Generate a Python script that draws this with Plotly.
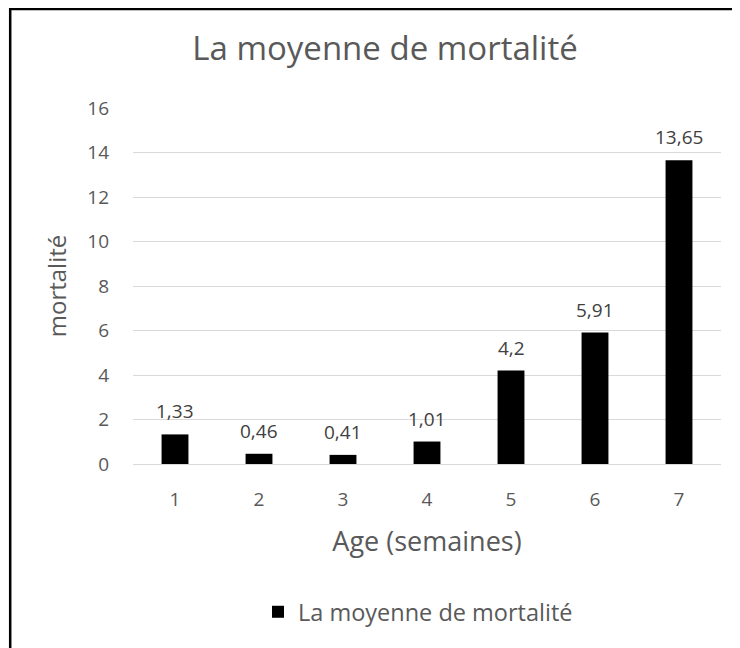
import plotly.graph_objects as go

categories = ["1", "2", "3", "4", "5", "6", "7"]
values = [1.33, 0.46, 0.41, 1.01, 4.2, 5.91, 13.65]
labels = ["1,33", "0,46", "0,41", "1,01", "4,2", "5,91", "13,65"]
series_name = "La moyenne de mortalité"
title_text = "La moyenne de mortalité"
x_title = "Age (semaines)"
y_title = "mortalité"
y_ticks = [0, 2, 4, 6, 8, 10, 12, 14, 16]

FONT = "Open Sans"
GREY = "#595959"

# the page body adds an 8px margin; reference pixel positions (page coordinates)
# are converted to figure coordinates
OFF = 8
W, H = 740 - OFF, 648 - OFF
L = 133 - OFF
T = 108 - OFF
R = W - (721 - OFF)
B = H - (464 - OFF)
pw, ph = W - L - R, H - T - B

def px_to_paper_x(px):
    return (px - OFF - L) / pw

def px_to_paper_y(py):
    return (H - B - (py - OFF)) / ph

fig = go.Figure()
fig.add_trace(go.Bar(
    x=categories, y=values, name=series_name,
    marker=dict(color="black", line=dict(width=0)),
    showlegend=True,
))

# value labels above the bars, placed on the data scale (category index, value)
for i, (v, t) in enumerate(zip(values, labels)):
    fig.add_annotation(x=i, y=v, text=t, showarrow=False, xref="x", yref="y",
                       yanchor="bottom", yshift=8,
                       font=dict(family=FONT, size=19, color="#404040"))

fig.update_layout(
    width=W, height=H,
    margin=dict(l=L, r=R, t=T, b=B, autoexpand=False),
    paper_bgcolor="white", plot_bgcolor="white",
    bargap=0.68,
    font=dict(family=FONT, color=GREY),
    title=dict(text=title_text, font=dict(family=FONT, size=33, color=GREY),
               x=px_to_paper_x(385), xref="paper", xanchor="center",
               y=1 - (48 - OFF) / H, yref="container", yanchor="middle"),
    xaxis=dict(type="category", showgrid=False, showline=False, ticks="",
               tickfont=dict(family=FONT, size=19, color=GREY),
               ticklabelstandoff=22,
               title=dict(text=x_title, font=dict(family=FONT, size=27, color=GREY), standoff=21)),
    yaxis=dict(range=[0, 16], tickvals=y_ticks, showgrid=True, gridcolor="#d9d9d9", gridwidth=1,
               zeroline=True, zerolinecolor="#d9d9d9", zerolinewidth=1, showline=False, ticks="",
               tickfont=dict(family=FONT, size=19, color=GREY),
               ticklabelstandoff=23,
               title=dict(text=y_title, font=dict(family=FONT, size=24, color=GREY), standoff=13)),
    legend=dict(orientation="h", x=px_to_paper_x(418), xanchor="center",
                y=px_to_paper_y(612), yanchor="middle",
                font=dict(family=FONT, size=23.5, color=GREY), itemwidth=30),
    shapes=[
        dict(type="line", xref="paper", yref="paper",
             x0=px_to_paper_x(10.2), y0=px_to_paper_y(700), x1=px_to_paper_x(10.2), y1=px_to_paper_y(7.7),
             line=dict(color="black", width=2.5)),
        dict(type="line", xref="paper", yref="paper",
             x0=px_to_paper_x(9), y0=px_to_paper_y(9), x1=px_to_paper_x(800), y1=px_to_paper_y(9),
             line=dict(color="black", width=2.5)),
    ],
)

fig.write_html(
    "out.html",
    post_script="document.documentElement.style.overflow='hidden';document.body.style.overflow='hidden';",
)
